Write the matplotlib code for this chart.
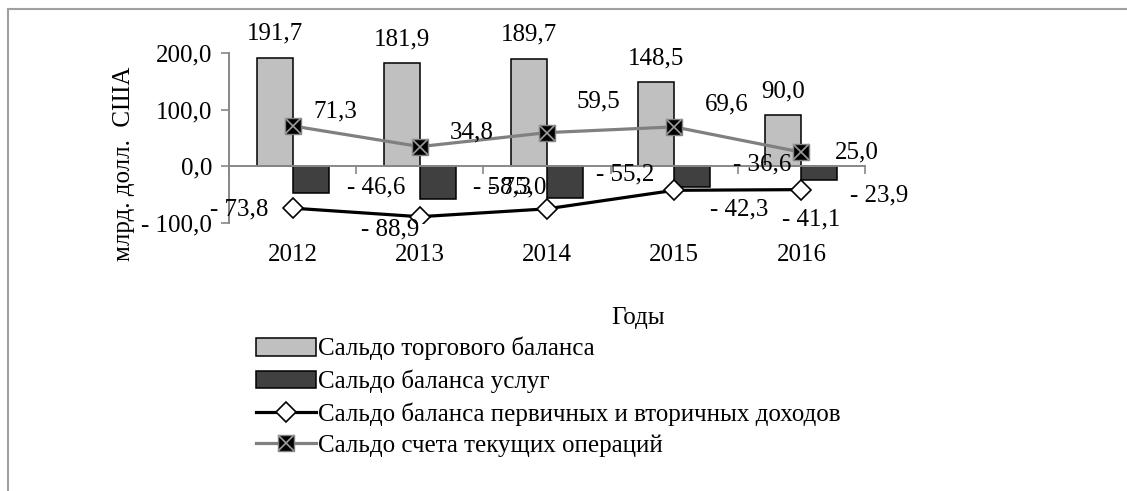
import numpy as np
import matplotlib
matplotlib.use("Agg")
import matplotlib.pyplot as plt
from matplotlib.lines import Line2D
from matplotlib.patches import Patch
from matplotlib.transforms import blended_transform_factory

plt.rcParams["font.family"] = ["Liberation Serif", "DejaVu Serif"]

# data
years = ["2012", "2013", "2014", "2015", "2016"]
trade = [191.7, 181.9, 189.7, 148.5, 90.0]
services = [-46.6, -58.3, -55.2, -36.6, -23.9]
income = [-73.8, -88.9, -75.0, -42.3, -41.1]
current = [71.3, 34.8, 59.5, 69.6, 25.0]

series_names = [
    "Сальдо торгового баланса",
    "Сальдо баланса услуг",
    "Сальдо баланса первичных и вторичных доходов",
    "Сальдо счета текущих операций",
]

# label offsets, pixels (dx, dy), screen y up
trade_off = [(0, 24)] * 5
services_off = [(66, 5), (64, 12), (60, 23), (70, 23), (60, -16)]
income_off = [(-53, -1), (-30, -13), (-30, 21), (65, -19), (10, -30)]
current_off = [(43, 14), (52, 14), (51, 31), (53, 22), (55, 0)]

FS = 18
GRID_GREY = "#888888"


def fmt(v):
    s = f"{abs(v):.1f}".replace(".", ",")
    return f"- {s}" if v < 0 else s


fig = plt.figure(figsize=(11.27, 4.91), dpi=100)
ax = fig.add_axes([229 / 1127, 1 - 223 / 491, 636 / 1127, 170 / 491])

x = np.arange(len(years))
w = 0.283

ax.bar(x - w / 2, trade, w, color="#C0C0C0", edgecolor="black",
       linewidth=1.1, zorder=2)
ax.bar(x + w / 2, services, w, color="#404040", edgecolor="black",
       linewidth=1.1, zorder=2)

ax.plot(x, income, color="black", linewidth=2.3, marker="D",
        markersize=10, markerfacecolor="white", markeredgecolor="black",
        markeredgewidth=1.2, zorder=4)
ax.plot(x, current, color="#808080", linewidth=2.3, marker="s",
        markersize=12, markerfacecolor="black", markeredgecolor="#808080",
        markeredgewidth=1.0, zorder=4)
ax.plot(x, current, linestyle="none", marker="x", markersize=11,
        markeredgecolor="#9a9a9a", markeredgewidth=1.2, zorder=5)

# data labels
for xs, vals, offs in [
    (x - w / 2, trade, trade_off),
    (x + w / 2, services, services_off),
    (x, income, income_off),
    (x, current, current_off),
]:
    for xi, v, (dx, dy) in zip(xs, vals, offs):
        ax.annotate(fmt(v), (xi, v), xytext=(dx, dy),
                    textcoords="offset pixels", ha="center", va="center",
                    fontsize=FS, zorder=6)

ax.set_xlim(-0.5, len(years) - 0.5)
ax.set_ylim(-100, 200)
ax.set_yticks([-100, 0, 100, 200])
ax.set_yticklabels([fmt(t) for t in [-100, 0, 100, 200]], fontsize=FS)

for side in ["top", "right"]:
    ax.spines[side].set_visible(False)
ax.spines["left"].set_color(GRID_GREY)
ax.spines["left"].set_linewidth(1.4)
ax.spines["bottom"].set_position(("data", 0))
ax.spines["bottom"].set_color(GRID_GREY)
ax.spines["bottom"].set_linewidth(1.4)
ax.spines["bottom"].set_zorder(3)

ax.set_xticks(np.arange(len(years) + 1) - 0.5)
ax.set_xticklabels([])
ax.tick_params(axis="x", direction="out", length=6, width=1.2,
               color=GRID_GREY)
ax.tick_params(axis="y", direction="out", length=6, width=1.2,
               color=GRID_GREY, pad=6)

# category labels below plot area
trans = blended_transform_factory(ax.transData, ax.transAxes)
for xi, yr in zip(x, years):
    ax.annotate(yr, (xi, 0), xycoords=trans, xytext=(0, -32),
                textcoords="offset pixels", ha="center", va="center",
                fontsize=FS)

fig.text(124 / 1127, 1 - 164 / 491, "млрд. долл.  США", rotation=90,
         ha="center", va="center", fontsize=FS)
fig.text(638 / 1127, 1 - 318 / 491, "Годы", ha="center", va="center",
         fontsize=FS)

handles = [
    Patch(facecolor="#C0C0C0", edgecolor="black", linewidth=1.1),
    Patch(facecolor="#404040", edgecolor="black", linewidth=1.1),
    Line2D([], [], color="black", linewidth=2.3, marker="D", markersize=10,
           markerfacecolor="white", markeredgecolor="black",
           markeredgewidth=1.2),
    (Line2D([], [], color="#808080", linewidth=2.3, marker="s",
            markersize=12, markerfacecolor="black",
            markeredgecolor="#808080"),
     Line2D([], [], linestyle="none", marker="x", markersize=11,
            markeredgecolor="#9a9a9a", markeredgewidth=1.2)),
]
fig.legend(handles, series_names, loc="upper left",
           bbox_to_anchor=(256 / 1127, 1 - 337 / 491), frameon=False,
           fontsize=FS, handlelength=2.4, handletextpad=0.1,
           labelspacing=0.36, borderpad=0, borderaxespad=0)

# chart area border (top and left)
fig.add_artist(Line2D([8 / 1127, 1.0], [1 - 9 / 491, 1 - 9 / 491],
                      color="#a0a0a0", linewidth=1.5))
fig.add_artist(Line2D([8 / 1127, 8 / 1127], [0, 1 - 9 / 491],
                      color="#a0a0a0", linewidth=1.5))

fig.savefig("out.png", dpi=100)
